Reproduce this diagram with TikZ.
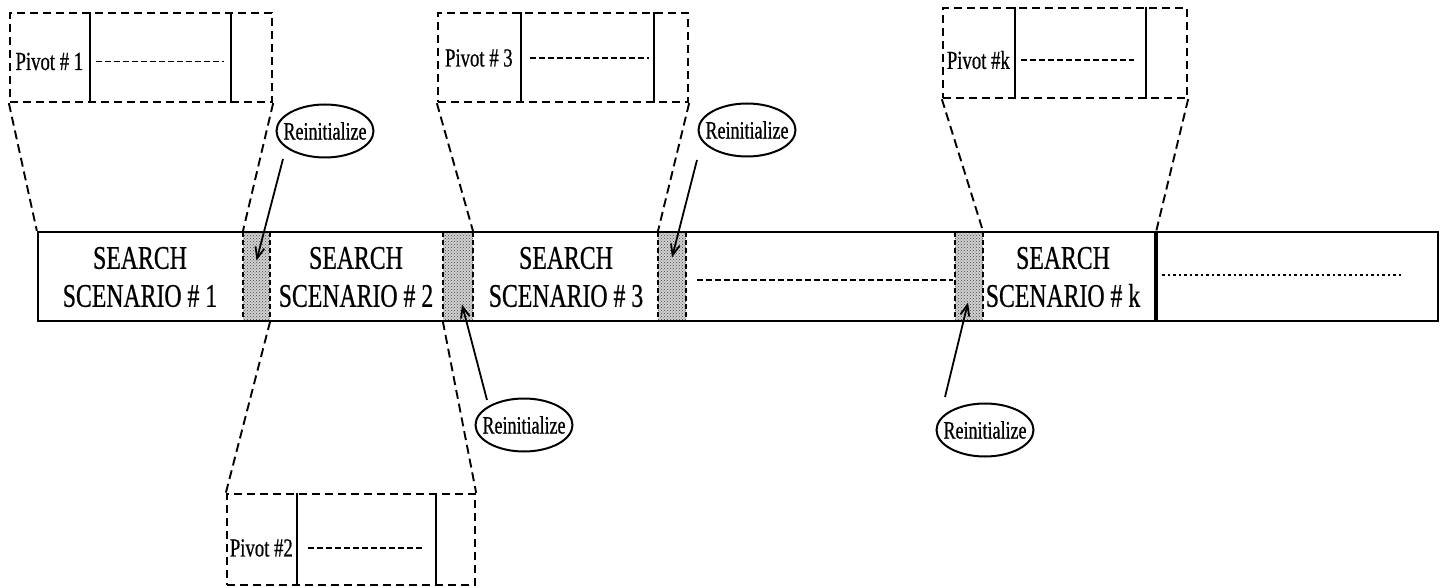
\documentclass[tikz,border=0pt]{standalone}
\usepackage{fontspec}
\setmainfont[FakeStretch=0.72,FakeBold=0.6]{Liberation Serif}
\usetikzlibrary{positioning,shapes.geometric,patterns,arrows.meta}

\begin{document}
\begin{tikzpicture}[x=1pt,y=-1pt,
  pivot/.style={draw,dash pattern=on 8pt off 5pt,line width=2.3pt,minimum height=89pt,inner sep=0pt},
  pvlabel/.style={inner sep=0pt,font=\fontsize{26}{30}\selectfont},
  gap/.style={preaction={fill=gray!35},pattern=crosshatch dots,pattern color=black!75,minimum width=28pt,minimum height=89pt,inner sep=0pt},
  gapline/.style={dash pattern=on 5pt off 3pt,line width=2pt},
  guide/.style={dash pattern=on 9pt off 5pt,line width=1.9pt},
  reinit/.style={ellipse,draw,line width=2pt,minimum width=97pt,minimum height=53pt,inner xsep=-16pt,inner ysep=0pt,font=\fontsize{25}{30}\selectfont},
  scen/.style={align=center,font=\fontsize{33}{38}\selectfont},
  hint/.style={line width=1.8pt,-{Straight Barb[length=11pt,width=9pt]}}]
\useasboundingbox (0,0) rectangle (1447,588);
\tikzstyle{dashin}=[dash pattern=on 6pt off 3pt,line width=1.8pt]

% the search run
\node[gap,minimum width=27pt] (g1) at (256.5,276.5) {};
\node[gap,minimum width=30pt] (g2) at (458,276.5) {};
\node[gap] (g3) at (672,276.5) {};
\node[gap] (gk) at (969,276.5) {};
\node[draw,line width=2.3pt,minimum width=1400pt,minimum height=89pt,inner sep=0pt] (bar) at (738,276.5) {};
\draw[gapline] (g1.north west) -- (g1.south west) (g1.north east) -- (g1.south east);
\draw[gapline] (g2.north west) -- (g2.south west) (g2.north east) -- (g2.south east);
\draw[gapline] (g3.north west) -- (g3.south west) (g3.north east) -- (g3.south east);
\draw[gapline] (gk.north west) -- (gk.south west) (gk.north east) -- (gk.south east);
\coordinate (dtop) at (1156,232);
\coordinate (dbot) at (1156,321);
\draw[line width=3.2pt] (dtop) -- (dbot);

\node[scen] (s1) at (140,277) {SEARCH\\SCENARIO \# 1};
\node[scen] (s2) at (356,277) {SEARCH\\SCENARIO \# 2};
\node[scen] (s3) at (566,277) {SEARCH\\SCENARIO \# 3};
\node[scen] (sk) at (1063,277) {SEARCH\\SCENARIO \# k};
\draw[dashin] (697,280) -- (953,280);
\draw[line width=1.9pt,dash pattern=on 2.5pt off 3pt] (1162,275) -- (1403,275);

% pivot boxes
\node[pivot,minimum width=262pt] (p1) at (141,57.5) {};
\node[pvlabel] (l1) at ([shift={(40.5,4)}]p1.west) {Pivot \# 1};
\draw[line width=1.8pt] ([xshift=81pt]p1.north west) -- ([xshift=81pt]p1.south west);
\draw[line width=1.8pt] ([xshift=222pt]p1.north west) -- ([xshift=222pt]p1.south west);
\draw[dashin] ([shift={(87,4)}]p1.west) -- ([shift={(215,4)}]p1.west);

\node[pivot,minimum width=248pt,minimum height=91pt] (p2) at (351,539.5) {};
\node[pvlabel] (l2) at ([shift={(35.5,8.5)}]p2.west) {Pivot \#2};
\draw[line width=1.8pt] ([xshift=71pt]p2.north west) -- ([xshift=71pt]p2.south west);
\draw[line width=1.8pt] ([xshift=210pt]p2.north west) -- ([xshift=210pt]p2.south west);
\draw[dashin] ([shift={(82,8.5)}]p2.west) -- ([shift={(198,8.5)}]p2.west);

\node[pivot,minimum width=250pt] (p3) at (563,57.5) {};
\node[pvlabel] (l3) at ([shift={(42,0.5)}]p3.west) {Pivot \# 3};
\draw[line width=1.8pt] ([xshift=84pt]p3.north west) -- ([xshift=84pt]p3.south west);
\draw[line width=1.8pt] ([xshift=217pt]p3.north west) -- ([xshift=217pt]p3.south west);
\draw[dashin] ([shift={(93,0.5)}]p3.west) -- ([shift={(212,0.5)}]p3.west);

\node[pivot,minimum width=244pt,minimum height=90pt] (pk) at (1065,53) {};
\node[pvlabel] (lk) at ([shift={(36.5,7)}]pk.west) {Pivot \#k};
\draw[line width=1.8pt] ([xshift=73pt]pk.north west) -- ([xshift=73pt]pk.south west);
\draw[line width=1.8pt] ([xshift=204pt]pk.north west) -- ([xshift=204pt]pk.south west);
\draw[dashin] ([shift={(79,7)}]pk.west) -- ([shift={(192,7)}]pk.west);

% zoom lines
\draw[guide] (p1.south west) -- (bar.north west);
\draw[guide] (p1.south east) -- (g1.north west);
\draw[guide] (g1.south east) -- (p2.north west);
\draw[guide] (g2.south west) -- (p2.north east);
\draw[guide] (p3.south west) -- (g2.north east);
\draw[guide] (p3.south east) -- (g3.north west);
\draw[guide] (pk.south west) -- (gk.north east);
\draw[guide] (pk.south east) -- (dtop);

% reinitialize marks
\node[reinit] (r1) at (325,131) {Reinitialize};
\node[reinit] (r2) at (747,130) {Reinitialize};
\node[reinit] (r3) at (524,425) {Reinitialize};
\node[reinit] (r4) at (985,430) {Reinitialize};
\draw[hint] ([shift={(-42,28)}]r1.center) -- ([shift={(0,-16)}]g1.center);
\draw[hint] ([shift={(-50,30)}]r2.center) -- ([shift={(0,-19)}]g3.center);
\draw[hint] ([shift={(-37,-25)}]r3.center) -- ([shift={(4,28)}]g2.center);
\draw[hint] ([shift={(-40,-33)}]r4.center) -- ([shift={(-1,26)}]gk.center);
\end{tikzpicture}
\end{document}
